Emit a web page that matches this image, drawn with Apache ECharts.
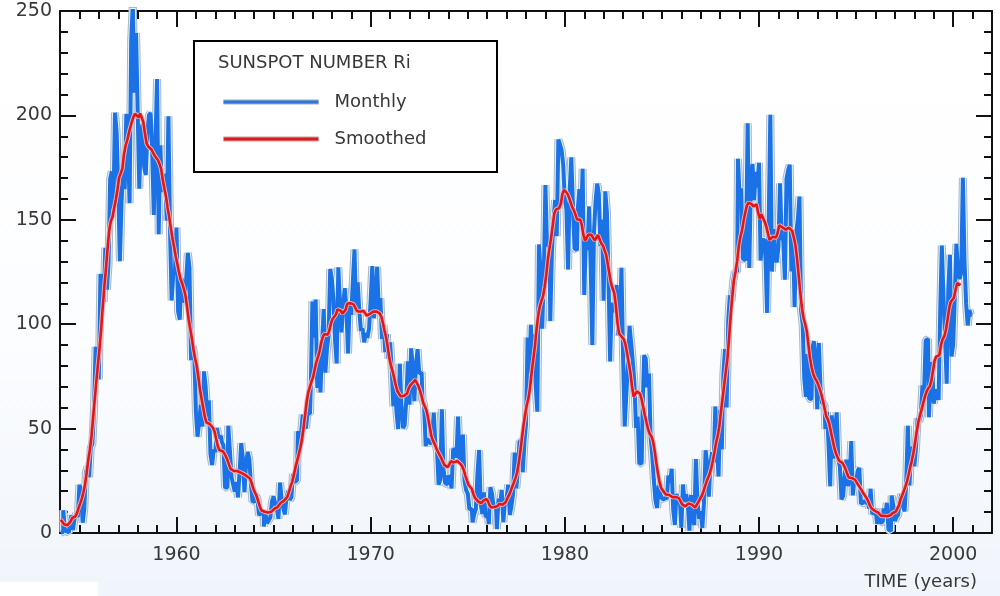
<!DOCTYPE html>
<html>
<head>
<meta charset="utf-8">
<script src="https://cdn.jsdelivr.net/npm/echarts@6/dist/echarts.min.js"></script>
<style>
html,body{margin:0;padding:0;background:#fff;}
#chart{width:1000px;height:596px;}
</style>
</head>
<body>
<div id="chart"></div>
<script>
// ---- data (monthly sunspot number Ri, Jan 1954 .. Dec 2000) ----
const startYear = 1954;
const monthly = [
  0.2, 0.5, 10.9, 1.8, 0.8, 0.2, 4.8, 8.4, 1.5, 7.0, 9.2, 7.6,
  23.1, 20.8, 4.9, 11.3, 28.9, 31.7, 26.7, 40.7, 42.7, 58.5, 89.2, 76.9,
  73.6, 124.0, 118.4, 110.7, 136.6, 116.6, 129.1, 169.6, 173.2, 155.3, 201.3, 192.1,
  165.0, 130.2, 157.4, 175.2, 164.6, 200.7, 187.2, 158.0, 235.8, 253.8, 210.9, 239.4,
  202.5, 164.9, 190.7, 196.0, 175.3, 171.5, 191.4, 200.2, 201.2, 181.5, 152.3, 187.6,
  217.4, 143.1, 185.7, 163.3, 172.0, 168.7, 149.6, 199.6, 145.2, 111.4, 124.0, 125.0,
  146.3, 106.0, 102.2, 122.0, 119.6, 110.2, 121.7, 134.1, 127.2, 82.8, 89.6, 85.6,
  57.9, 46.1, 53.0, 61.4, 51.0, 77.4, 70.2, 55.9, 63.6, 37.7, 32.6, 39.9,
  38.7, 50.3, 45.6, 46.4, 43.7, 42.0, 21.8, 21.8, 51.3, 39.5, 26.9, 23.2,
  19.8, 24.4, 17.1, 29.3, 43.0, 35.9, 19.6, 33.2, 38.8, 35.3, 23.4, 14.9,
  15.3, 17.7, 16.5, 8.6, 9.5, 9.1, 3.1, 9.3, 4.7, 6.1, 7.4, 15.1,
  17.5, 14.2, 11.7, 6.8, 24.1, 15.9, 11.9, 8.9, 16.8, 20.1, 15.8, 17.0,
  28.2, 24.4, 25.3, 48.7, 45.3, 47.7, 56.7, 51.2, 50.2, 57.2, 57.2, 70.4,
  110.9, 93.6, 111.8, 69.5, 86.5, 67.3, 91.5, 107.2, 76.8, 88.2, 94.3, 126.4,
  121.8, 111.9, 92.2, 81.2, 127.2, 110.3, 96.1, 109.3, 117.2, 107.7, 86.0, 109.8,
  104.4, 120.5, 135.8, 106.8, 120.0, 106.0, 96.8, 98.0, 91.3, 95.7, 93.5, 97.9,
  111.5, 127.8, 102.9, 109.5, 127.5, 106.8, 112.5, 93.0, 99.5, 86.6, 95.2, 83.5,
  91.3, 79.0, 60.7, 71.8, 57.5, 49.8, 81.0, 61.4, 50.2, 51.7, 63.2, 82.2,
  61.5, 88.4, 80.1, 63.2, 80.5, 88.0, 76.5, 76.8, 64.0, 61.3, 41.6, 45.3,
  43.4, 42.9, 46.0, 57.7, 42.4, 39.5, 23.1, 25.6, 59.3, 30.7, 23.9, 23.3,
  27.6, 26.0, 21.3, 40.3, 39.5, 36.0, 55.8, 33.6, 40.2, 47.1, 25.0, 20.5,
  18.9, 11.5, 11.5, 5.1, 9.0, 11.4, 28.2, 39.7, 13.9, 9.1, 19.4, 7.8,
  8.1, 4.3, 21.9, 18.8, 12.4, 12.2, 1.9, 16.4, 13.5, 20.6, 5.2, 15.3,
  16.4, 23.1, 8.7, 12.9, 18.6, 38.5, 21.4, 30.1, 44.0, 43.8, 29.1, 43.2,
  51.9, 93.6, 76.5, 99.7, 82.7, 95.1, 70.4, 58.1, 138.2, 125.1, 97.9, 122.7,
  166.6, 137.5, 138.0, 101.5, 134.4, 149.5, 159.4, 142.2, 188.4, 186.2, 183.3, 176.3,
  159.6, 155.0, 126.2, 164.1, 179.9, 157.3, 136.3, 135.4, 155.0, 164.7, 147.9, 174.4,
  114.0, 141.3, 135.5, 156.4, 127.5, 90.0, 143.8, 158.7, 167.3, 162.4, 137.5, 150.1,
  111.2, 163.6, 153.8, 122.0, 82.2, 110.4, 106.1, 107.6, 118.8, 94.7, 98.1, 127.0,
  84.3, 51.0, 66.5, 80.7, 99.2, 91.1, 82.2, 71.8, 50.3, 55.8, 33.3, 33.4,
  57.0, 85.1, 83.5, 69.7, 76.4, 46.1, 37.4, 25.5, 15.7, 12.0, 22.8, 18.7,
  16.5, 15.9, 17.2, 16.2, 27.5, 24.2, 30.7, 11.1, 3.9, 18.6, 16.2, 17.3,
  2.5, 23.2, 15.1, 18.5, 13.7, 1.1, 18.1, 7.4, 3.8, 35.4, 15.2, 6.8,
  10.4, 2.4, 14.7, 39.6, 33.0, 17.4, 33.0, 38.7, 33.9, 60.6, 39.9, 27.1,
  59.0, 40.0, 76.2, 88.0, 60.1, 101.8, 113.8, 111.0, 120.1, 125.1, 125.1, 179.2,
  161.3, 165.1, 131.4, 130.6, 138.5, 196.2, 126.9, 168.9, 176.7, 159.4, 173.0, 165.5,
  177.3, 130.5, 140.3, 140.3, 132.2, 105.4, 149.4, 200.3, 125.2, 145.5, 131.4, 129.7,
  136.9, 167.5, 141.9, 140.0, 121.3, 169.7, 173.7, 176.3, 125.3, 144.1, 108.2, 144.4,
  150.0, 161.1, 106.7, 99.8, 73.8, 65.2, 85.7, 64.5, 63.9, 88.7, 91.8, 82.6,
  59.3, 91.0, 69.8, 62.2, 61.3, 49.8, 57.9, 42.2, 22.4, 56.4, 35.6, 48.9,
  57.8, 35.5, 31.7, 16.1, 17.8, 28.0, 35.1, 22.5, 25.7, 44.0, 18.0, 26.2,
  24.2, 29.9, 31.1, 14.0, 14.5, 15.6, 14.5, 14.3, 11.8, 21.1, 9.0, 10.0,
  11.5, 4.4, 9.2, 4.8, 5.5, 11.8, 8.2, 14.4, 1.6, 0.9, 17.9, 13.3,
  5.7, 7.6, 8.7, 15.5, 18.5, 12.7, 10.4, 24.4, 51.3, 22.8, 39.0, 41.2,
  31.9, 40.3, 54.8, 53.4, 56.3, 70.7, 66.6, 92.2, 92.9, 55.5, 74.0, 81.9,
  62.0, 66.3, 68.8, 63.7, 106.4, 137.7, 113.5, 93.7, 71.5, 116.7, 133.2, 84.6,
  90.1, 112.9, 138.5, 125.5, 121.6, 124.9, 170.1, 130.5, 109.7, 99.4, 106.8, 104.4
];
// ---- 13-month smoothed Ri, Jan 1954 .. May 2000 ----
const smoothed = [
  6.4, 5.6, 4.2, 3.5, 3.7, 4.2, 5.4, 7.2, 7.8, 7.9, 9.5, 12.0,
  14.2, 16.5, 19.5, 23.4, 28.9, 35.1, 40.1, 46.5, 55.6, 64.4, 73.0, 81.1,
  88.9, 98.5, 109.3, 118.8, 127.5, 137.0, 145.5, 149.6, 151.5, 155.8, 159.7, 164.3,
  170.2, 172.2, 174.3, 181.0, 185.5, 187.9, 191.4, 194.4, 197.2, 199.5, 200.8, 200.0,
  199.0, 200.9, 201.2, 196.8, 191.3, 186.7, 185.1, 184.8, 183.7, 182.2, 180.7, 180.4,
  178.6, 176.8, 174.4, 169.2, 165.1, 161.3, 155.8, 151.3, 146.2, 141.0, 137.1, 132.5,
  128.9, 125.0, 121.6, 119.6, 117.0, 113.9, 108.5, 102.3, 97.8, 93.2, 87.9, 83.6,
  80.1, 74.7, 68.8, 64.3, 60.0, 55.7, 53.0, 52.4, 52.2, 51.3, 50.4, 48.6,
  45.1, 41.7, 39.7, 39.3, 39.2, 38.2, 36.7, 34.9, 32.6, 30.7, 30.0, 29.7,
  29.3, 29.7, 29.7, 29.0, 28.7, 28.2, 27.6, 27.2, 26.9, 26.0, 23.7, 21.2,
  19.4, 17.7, 15.3, 12.7, 10.8, 10.1, 10.2, 10.2, 9.8, 9.5, 10.1, 11.0,
  11.6, 12.0, 12.4, 13.5, 14.5, 14.9, 15.5, 16.3, 17.3, 19.7, 22.3, 24.5,
  27.7, 31.3, 34.4, 37.4, 40.7, 44.6, 50.3, 56.6, 63.1, 67.6, 70.1, 72.7,
  75.0, 78.7, 82.1, 84.5, 87.4, 91.3, 94.1, 95.3, 95.2, 94.9, 97.1, 100.6,
  102.5, 102.8, 104.6, 107.1, 107.6, 106.5, 105.1, 104.7, 106.9, 109.8, 110.5, 110.1,
  109.9, 109.5, 107.9, 106.3, 106.2, 106.0, 105.8, 106.4, 105.4, 104.1, 104.5, 104.9,
  105.6, 106.0, 106.1, 106.1, 105.8, 105.2, 103.8, 100.9, 97.1, 93.8, 89.3, 84.0,
  80.3, 77.7, 74.3, 70.8, 68.0, 66.7, 65.4, 64.5, 65.7, 66.2, 66.8, 69.3,
  70.7, 71.2, 72.4, 73.4, 72.9, 70.4, 68.2, 65.5, 62.2, 60.6, 58.7, 55.1,
  50.9, 46.5, 44.2, 42.7, 40.7, 39.0, 37.5, 36.1, 34.4, 32.6, 31.8, 31.5,
  32.7, 34.4, 33.9, 33.8, 34.6, 34.5, 34.1, 33.1, 32.1, 30.2, 27.5, 25.2,
  23.0, 22.1, 21.2, 18.6, 16.8, 16.0, 15.0, 14.3, 14.4, 15.4, 16.1, 16.3,
  15.2, 13.2, 12.2, 12.6, 12.5, 12.2, 12.9, 14.0, 14.3, 13.5, 13.5, 14.8,
  16.7, 18.1, 20.0, 22.2, 24.2, 26.3, 28.9, 33.4, 39.1, 45.5, 51.8, 56.9,
  61.3, 64.5, 69.6, 76.9, 83.2, 89.3, 97.4, 104.0, 108.4, 111.0, 113.3, 117.7,
  123.6, 130.9, 136.4, 141.1, 147.2, 153.0, 154.9, 155.4, 155.6, 157.7, 162.2, 164.4,
  163.8, 162.6, 160.9, 158.6, 156.2, 154.7, 152.7, 150.2, 150.0, 150.1, 147.6, 142.6,
  140.1, 141.4, 142.9, 143.3, 142.8, 141.3, 140.2, 141.0, 142.7, 142.0, 138.7, 137.7,
  137.0, 133.3, 129.1, 124.3, 119.8, 117.2, 115.1, 109.3, 101.0, 95.6, 94.6, 94.5,
  92.7, 90.2, 85.9, 81.4, 77.0, 70.4, 65.4, 65.7, 67.8, 68.1, 66.7, 63.8,
  60.1, 56.3, 52.9, 49.6, 47.4, 46.3, 44.0, 39.5, 33.8, 28.8, 24.6, 21.6,
  20.4, 19.5, 18.4, 18.2, 18.2, 17.9, 17.2, 16.9, 17.2, 17.2, 16.7, 15.2,
  13.7, 13.0, 12.8, 13.5, 14.2, 13.7, 13.6, 13.1, 12.2, 13.1, 14.8, 16.3,
  17.6, 19.5, 22.1, 24.4, 26.4, 28.3, 31.1, 34.7, 38.9, 43.4, 46.6, 51.2,
  58.1, 64.5, 71.1, 77.4, 83.6, 93.5, 104.1, 113.5, 121.1, 125.1, 130.2, 137.4,
  141.9, 144.8, 149.6, 153.4, 156.8, 158.2, 158.3, 157.5, 156.4, 157.2, 157.4, 153.3,
  150.5, 152.7, 151.9, 149.1, 146.8, 143.6, 140.4, 140.3, 141.9, 141.9, 141.5, 143.7,
  147.4, 147.4, 146.4, 146.4, 145.3, 145.0, 146.2, 146.5, 144.7, 141.6, 137.9, 131.6,
  123.6, 115.3, 108.0, 103.1, 100.2, 96.9, 90.5, 83.8, 79.4, 76.3, 74.2, 73.0,
  71.2, 69.1, 66.5, 63.4, 59.7, 56.0, 54.5, 52.1, 48.2, 44.7, 41.0, 38.3,
  36.4, 34.6, 34.0, 33.6, 32.3, 30.6, 28.3, 26.6, 26.4, 26.3, 26.1, 25.4,
  24.0, 22.8, 21.9, 20.4, 19.0, 17.9, 16.7, 15.2, 13.2, 11.9, 11.1, 10.6,
  10.2, 9.9, 9.5, 8.2, 7.8, 8.2, 8.1, 8.0, 8.1, 8.6, 9.6, 10.1,
  10.2, 10.7, 13.2, 16.2, 18.0, 20.1, 22.3, 24.8, 28.1, 31.6, 34.8, 38.7,
  43.5, 48.7, 53.2, 56.3, 59.2, 62.3, 65.2, 67.6, 69.2, 70.2, 72.7, 77.6,
  82.4, 84.4, 83.5, 85.2, 90.2, 92.8, 94.1, 97.2, 102.0, 107.5, 110.7, 110.8,
  112.7, 116.6, 119.7, 120.5, 118.7
];
const xTickLabels = [1960, 1970, 1980, 1990, 2000];
const yTickLabels = [0, 50, 100, 150, 200, 250];
const legendTitle = 'SUNSPOT NUMBER Ri';
const xAxisTitle = 'TIME (years)';
const seriesNames = ['Monthly', 'Smoothed'];

// ---- build ----
const xMin = 1954, xMax = 2002;
const toPairs = arr => arr.map((v, i) => [startYear + (i + 0.5) / 12, v]);
const monthlyData = toPairs(monthly);
const smoothedData = toPairs(smoothed);
const minorYears = [];
for (let y = xMin + 1; y < xMax; y++) if (y % 10 !== 0) minorYears.push(y);

const FONT = '"DejaVu Sans", sans-serif';
const TXT = '#383838';
const AX = '#111';

function xAx(pos, values, len, labels, line) {
  return {
    type: 'value', position: pos, min: xMin, max: xMax, gridIndex: 0,
    axisLine: { show: line, onZero: false, lineStyle: { color: AX, width: 2 } },
    axisTick: { show: true, inside: true, length: len, customValues: values, lineStyle: { color: AX, width: 2 } },
    axisLabel: labels ? { show: true, customValues: xTickLabels, formatter: v => String(v), fontSize: 19, color: TXT, fontFamily: FONT, margin: 13 } : { show: false },
    splitLine: { show: false }
  };
}
function yAx(pos, labels) {
  return {
    type: 'value', position: pos, min: 0, max: 250, interval: 50,
    axisLine: { show: true, onZero: false, lineStyle: { color: AX, width: 2 } },
    axisTick: { show: true, inside: true, length: 16, lineStyle: { color: AX, width: 2 } },
    minorTick: { show: true, splitNumber: 5, length: 8, lineStyle: { color: AX, width: 2 } },
    axisLabel: labels ? { show: true, customValues: yTickLabels, formatter: v => String(v), fontSize: 19, color: TXT, fontFamily: FONT, margin: 8 } : { show: false },
    splitLine: { show: false }
  };
}

const chart = echarts.init(document.getElementById('chart'), null, { renderer: 'canvas' });
const lineBase = { type: 'line', showSymbol: false, symbol: 'none', xAxisIndex: 0, yAxisIndex: 0, animation: false };
chart.setOption({
  animation: false,
  backgroundColor: {
    type: 'linear', x: 0, y: 0, x2: 0, y2: 1,
    colorStops: [{ offset: 0, color: '#ffffff' }, { offset: 0.55, color: '#fcfdff' }, { offset: 1, color: '#f0f5fb' }]
  },
  grid: { left: 60, right: 8, top: 11, bottom: 63, containLabel: false },
  xAxis: [
    xAx('bottom', xTickLabels, 16, true, true),
    xAx('bottom', minorYears, 8, false, false),
    xAx('top', xTickLabels, 16, false, true),
    xAx('top', minorYears, 8, false, false)
  ],
  yAxis: [yAx('left', true), yAx('right', false)],
  legend: {
    data: [
      { name: seriesNames[0], itemStyle: { color: '#2a78dc', borderColor: '#9fb0c2', borderWidth: 1 } },
      { name: seriesNames[1], itemStyle: { color: '#de1a1a', borderColor: '#c9a0a0', borderWidth: 1 } }
    ],
    orient: 'vertical', left: 218, top: 88, icon: 'rect',
    itemWidth: 95, itemHeight: 4, itemGap: 19,
    textStyle: { fontSize: 18, color: TXT, fontFamily: FONT, padding: [0, 0, 0, 11] },
    selectedMode: false, z: 20
  },
  graphic: [
    { type: 'rect', z: 15, shape: { x: 194, y: 41, width: 303, height: 131 }, style: { fill: '#ffffff', stroke: '#000', lineWidth: 2 } },
    { type: 'text', z: 16, x: 218, y: 63, style: { text: legendTitle, font: '18px ' + FONT, fill: TXT, textVerticalAlign: 'middle' } },
    { type: 'text', z: 16, x: 977, y: 582, style: { text: xAxisTitle, font: '18px ' + FONT, fill: TXT, textAlign: 'right', textVerticalAlign: 'middle' } },
    { type: 'rect', z: -1, shape: { x: 0, y: 582, width: 98, height: 14 }, style: { fill: '#ffffff' } }
  ],
  series: [
    Object.assign({}, lineBase, { name: 'm_halo1', data: monthlyData, step: 'middle', z: 2, silent: true, lineStyle: { color: '#a9b6c3', width: 8 } }),
    Object.assign({}, lineBase, { name: 'm_halo2', data: monthlyData, step: 'middle', z: 3, silent: true, lineStyle: { color: '#e3f4fc', width: 6 } }),
    Object.assign({}, lineBase, { name: seriesNames[0], data: monthlyData, step: 'middle', z: 4, lineStyle: { color: '#1a72e6', width: 4 } }),
    Object.assign({}, lineBase, { name: 's_halo', data: smoothedData, z: 5, silent: true, lineStyle: { color: '#f0b4b4', width: 4.5 } }),
    Object.assign({}, lineBase, { name: seriesNames[1], data: smoothedData, z: 6, lineStyle: { color: '#e0161b', width: 2.6 } })
  ]
});
</script>
</body>
</html>
